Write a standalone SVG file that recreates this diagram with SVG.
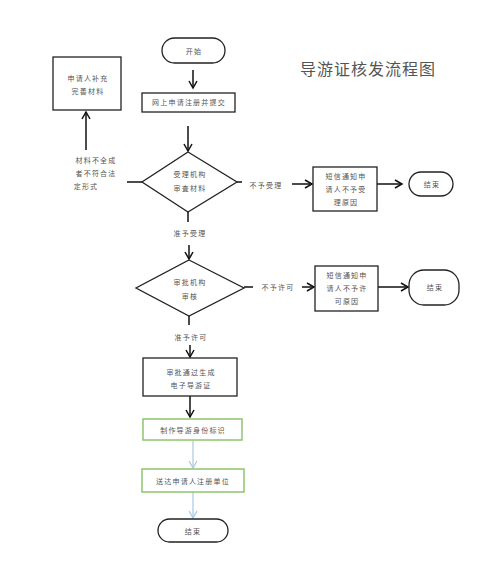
<svg xmlns="http://www.w3.org/2000/svg" width="500" height="587" viewBox="0 0 500 587">
<defs>
<marker id="ah" markerWidth="10" markerHeight="10" refX="8" refY="5" orient="auto" markerUnits="userSpaceOnUse"><path d="M1,1 L8,5 L1,9" fill="none" stroke="#111" stroke-width="1.5"/></marker>
<marker id="ahb" markerWidth="10" markerHeight="10" refX="8" refY="5" orient="auto" markerUnits="userSpaceOnUse"><path d="M1,1 L8,5 L1,9" fill="none" stroke="#a9c9e2" stroke-width="1.2"/></marker>
</defs>
<style>
.b{fill:#fff;stroke:#222;stroke-width:1.3}
.g{fill:#fff;stroke:#8fc46e;stroke-width:1.5}
.t{font-family:"Noto Sans CJK SC","Noto Sans",sans-serif;font-size:7px;fill:#555;text-anchor:middle;letter-spacing:1.2px}
.l{fill:none;stroke:#111;stroke-width:1.5}
.lb{fill:none;stroke:#a9c9e2;stroke-width:1.2}
</style>
<rect width="500" height="587" fill="#fff"/>
<text x="368" y="75" font-family="Noto Sans CJK SC,sans-serif" font-size="16" fill="#555" text-anchor="middle" letter-spacing="1">导游证核发流程图</text>
<g id="connectors">
<line class="l" x1="193" y1="70" x2="193" y2="88" marker-end="url(#ah)"/>
<line class="l" x1="188" y1="126" x2="188" y2="151" marker-end="url(#ah)"/>
<line class="l" x1="142" y1="182" x2="127" y2="182"/>
<line class="l" x1="86" y1="150" x2="86" y2="112" marker-end="url(#ah)"/>
<line class="l" x1="237" y1="182" x2="242" y2="182"/>
<line class="l" x1="292" y1="184" x2="312" y2="184" marker-end="url(#ah)"/>
<line class="l" x1="377" y1="184" x2="402" y2="184" marker-end="url(#ah)"/>
<line class="l" x1="188" y1="212" x2="188" y2="222"/>
<line class="l" x1="189" y1="245" x2="189" y2="259" marker-end="url(#ah)"/>
<line class="l" x1="244" y1="287" x2="253" y2="287"/>
<line class="l" x1="302" y1="287" x2="314" y2="287" marker-end="url(#ah)"/>
<line class="l" x1="378" y1="287" x2="408" y2="287" marker-end="url(#ah)"/>
<line class="l" x1="189" y1="316" x2="189" y2="325"/>
<line class="l" x1="190" y1="345" x2="190" y2="357" marker-end="url(#ah)"/>
<line class="l" x1="190" y1="396" x2="190" y2="417" marker-end="url(#ah)"/>
<line class="lb" x1="193" y1="441" x2="193" y2="468" marker-end="url(#ahb)"/>
<line class="lb" x1="193" y1="492" x2="193" y2="518" marker-end="url(#ahb)"/>
<text class="t" x="96" y="163">材料不全成</text>
<text class="t" x="96" y="176">者不符合法</text>
<text class="t" x="86" y="189">定形式</text>
<text class="t" x="266" y="188">不予受理</text>
<text class="t" x="190" y="236">准予受理</text>
<text class="t" x="278" y="290">不予许可</text>
<text class="t" x="191" y="340">准予许可</text>
</g>
<g id="start"><rect class="b" x="162" y="38" width="63" height="25" rx="12.5"/><text class="t" x="194" y="54">开始</text></g>
<g id="submit"><rect class="b" x="142" y="93" width="93" height="19"/><text class="t" x="189" y="105">网上申请注册并提交</text></g>
<g id="supplement"><rect class="b" x="53" y="57" width="68" height="53"/><text class="t" x="88" y="81">申请人补充</text><text class="t" x="88" y="94">完善材料</text></g>
<g id="review"><polygon class="b" points="188,152 237,182 188,212 142,182"/><text class="t" x="190" y="177">受理机构</text><text class="t" x="190" y="191">审査材料</text></g>
<g id="notify1"><rect class="b" x="313" y="167" width="64" height="44"/><text class="t" x="346" y="179">短信通知申</text><text class="t" x="346" y="192">请人不予受</text><text class="t" x="346" y="205">理原因</text></g>
<g id="end1"><rect class="b" x="409" y="172" width="44" height="24" rx="12"/><text class="t" x="432" y="187">结束</text></g>
<g id="approve"><polygon class="b" points="189,260 244,288 189,316 136,288"/><text class="t" x="190" y="285">审批机构</text><text class="t" x="190" y="299">审核</text></g>
<g id="notify2"><rect class="b" x="315" y="266" width="63" height="45"/><text class="t" x="347" y="278">短信通知申</text><text class="t" x="347" y="291">请人不予许</text><text class="t" x="347" y="304">可原因</text></g>
<g id="end2"><rect class="b" x="409" y="270" width="50" height="35" rx="15"/><text class="t" x="435" y="290">结束</text></g>
<g id="generate"><rect class="b" x="143" y="358" width="94" height="38"/><text class="t" x="191" y="375">审批通过生成</text><text class="t" x="191" y="388">电子导游证</text></g>
<g id="make"><rect class="g" x="143" y="419" width="99" height="21"/><text class="t" x="193" y="433">制作导游身份标识</text></g>
<g id="deliver"><rect class="g" x="142" y="469" width="102" height="23"/><text class="t" x="193" y="484">送达申请人注册单位</text></g>
<g id="end3"><rect class="b" x="158" y="519" width="70" height="23" rx="11.5"/><text class="t" x="193" y="534">结束</text></g>
</svg>
